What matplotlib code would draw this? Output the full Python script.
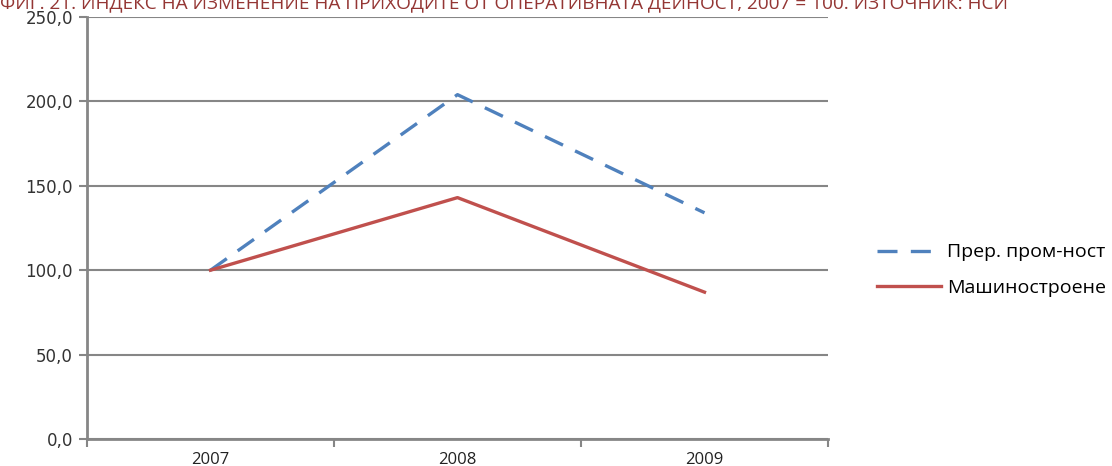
import matplotlib.pyplot as plt

years = ["2007", "2008", "2009"]
prer_prom = [100.0, 204.0, 134.0]
mashinostroene = [100.0, 143.0, 87.0]
y_ticks = [0, 50, 100, 150, 200, 250]

title = ("ФИГ. 21. ИНДЕКС НА ИЗМЕНЕНИЕ НА ПРИХОДИТЕ ОТ ОПЕРАТИВНАТА ДЕЙНОСТ, "
         "2007 = 100. ИЗТОЧНИК: НСИ")

fig = plt.figure(figsize=(11.12, 4.66), dpi=100)
ax = fig.add_axes([87 / 1112, 1 - 439 / 466, (828 - 87) / 1112, (439 - 17) / 466])

x = list(range(len(years)))
ax.plot(x, prer_prom, color="#4F81BD", lw=2.4, dashes=(6, 4), label="Прер. пром-ност")
ax.plot(x, mashinostroene, color="#C0504D", lw=2.4, label="Машиностроене")

ax.set_xlim(-0.5, len(years) - 0.5)
ax.set_ylim(0, 250)
ax.set_yticks(y_ticks)
ax.set_yticklabels([f"{v:.1f}".replace(".", ",") for v in y_ticks],
                   fontsize=12, family="DejaVu Sans", color="#333333")
ax.yaxis.grid(True, color="#868686", lw=1.5)
ax.set_axisbelow(True)

ax.set_xticks(x)
ax.set_xticklabels(years, fontsize=12, family="Open Sans", color="#222222")
ax.tick_params(axis="x", length=0, pad=9)
ax.tick_params(axis="y", length=6, width=1.5, color="#868686", pad=4)
ax.set_xticks([i - 0.5 for i in range(len(years) + 1)], minor=True)
ax.tick_params(axis="x", which="minor", length=6, width=1.5, color="#868686")

for s in ["top", "right"]:
    ax.spines[s].set_visible(False)
for s in ["left", "bottom"]:
    ax.spines[s].set_color("#868686")
    ax.spines[s].set_linewidth(2)

ax.legend(loc="center left", bbox_to_anchor=(1.066, 0.40), frameon=False,
          borderpad=0, borderaxespad=0,
          prop={"family": "Open Sans", "size": 14}, handlelength=3.3,
          labelspacing=0.9, handletextpad=0.3)

fig.text(0.0, 0.997, title, fontsize=13.7, family="Open Sans", color="#943634",
         ha="left", va="center")

fig.savefig("out.png", dpi=100)
